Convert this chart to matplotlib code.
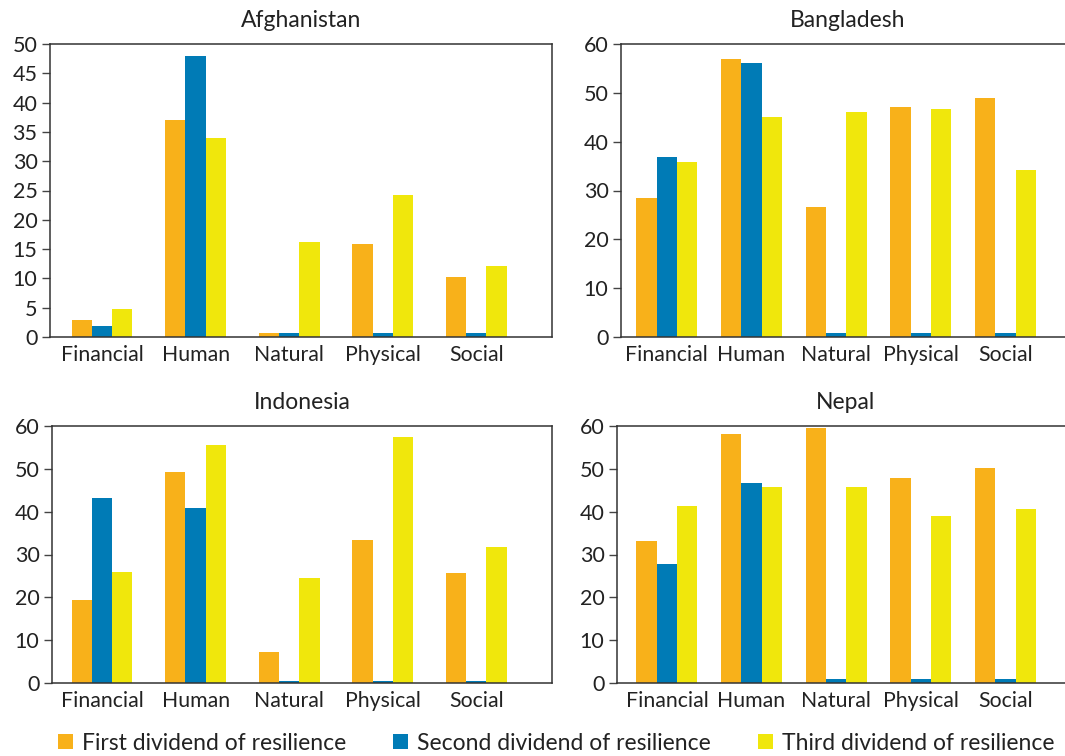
import numpy as np
import matplotlib
matplotlib.use("Agg")
import matplotlib.pyplot as plt
from matplotlib.patches import Patch

plt.rcParams['font.family'] = ['Lato', 'DejaVu Sans']

categories = ['Financial', 'Human', 'Natural', 'Physical', 'Social']
series = ['First dividend of resilience', 'Second dividend of resilience',
          'Third dividend of resilience']
colors = ['#F8B11A', '#007BB6', '#F0E70C']

afghanistan_first = [2.9, 37.1, 0.6, 15.8, 10.2]
afghanistan_second = [1.8, 47.9, 0.6, 0.6, 0.6]
afghanistan_third = [4.7, 33.9, 16.2, 24.2, 12.2]

bangladesh_first = [28.4, 56.9, 26.6, 47.0, 48.9]
bangladesh_second = [36.8, 56.2, 0.8, 0.8, 0.8]
bangladesh_third = [35.8, 45.0, 46.0, 46.6, 34.1]

indonesia_first = [19.4, 49.3, 7.3, 33.4, 25.7]
indonesia_second = [43.2, 40.9, 0.5, 0.5, 0.5]
indonesia_third = [26.0, 55.6, 24.6, 57.4, 31.8]

nepal_first = [33.2, 58.1, 59.5, 47.8, 50.3]
nepal_second = [27.8, 46.7, 1.0, 1.0, 1.0]
nepal_third = [41.3, 45.8, 45.8, 39.0, 40.6]

W, H = 1065, 756
fig = plt.figure(figsize=(W / 100, H / 100), dpi=100)

# panel: name, data, pixel box (left, right, top, bottom), ymax, ystep, xlim, bar width
panels = [
    ('Afghanistan', [afghanistan_first, afghanistan_second, afghanistan_third],
     (50, 552, 44, 337), 50, 5, (-0.556, 4.81), 0.217),
    ('Bangladesh', [bangladesh_first, bangladesh_second, bangladesh_third],
     (621, 1074, 44, 337), 60, 10, (-0.54, 4.81), 0.24),
    ('Indonesia', [indonesia_first, indonesia_second, indonesia_third],
     (52, 552, 426, 683), 60, 10, (-0.535, 4.81), 0.217),
    ('Nepal', [nepal_first, nepal_second, nepal_third],
     (617, 1074, 426, 683), 60, 10, (-0.59, 4.81), 0.24),
]

x = np.arange(len(categories))
for name, data, (l, r, t, b), ymax, ystep, xlim, bw in panels:
    ax = fig.add_axes([l / W, 1 - b / H, (r - l) / W, (b - t) / H])
    for i, vals in enumerate(data):
        ax.bar(x + (i - 1) * bw, vals, width=bw, color=colors[i], linewidth=0)
    ax.set_xlim(*xlim)
    ax.set_ylim(0, ymax)
    ax.set_yticks(np.arange(0, ymax + 1, ystep))
    ax.set_xticks(x)
    ax.set_xticklabels(categories)
    ax.tick_params(axis='x', length=0, labelsize=15.3, pad=6, colors='#222222')
    ax.tick_params(axis='y', length=6, width=1, labelsize=15.5, pad=3,
                   colors='#444444', labelcolor='#222222')
    for s in ax.spines.values():
        s.set_color('#333333')
        s.set_linewidth(1.1)
    ax.set_title(name, fontsize=16.5, pad=12, color='#222222')

handles = [Patch(facecolor=c, edgecolor='none') for c in colors]
fig.legend(handles, series, loc='center', bbox_to_anchor=(0.5225, 1 - 743 / H),
           ncol=3, frameon=False, fontsize=16.5, handlelength=0.65,
           handleheight=0.65, handletextpad=0.4, columnspacing=2.05,
           labelcolor='#222222')

fig.savefig('out.png', dpi=100)
